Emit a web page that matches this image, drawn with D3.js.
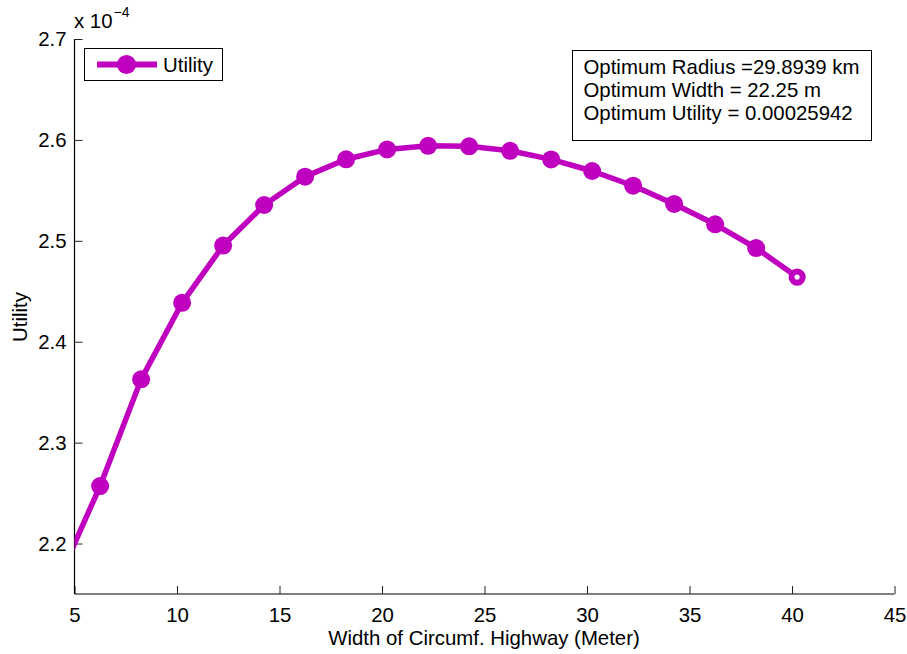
<!DOCTYPE html>
<html>
<head>
<meta charset="utf-8">
<script src="https://cdn.jsdelivr.net/npm/d3@7"></script>
<style>
  html, body { margin: 0; padding: 0; background: #fff; }
  svg { display: block; font-family: "Liberation Sans", Arial, Helvetica, sans-serif; }
</style>
</head>
<body>
<svg id="chart" width="907" height="654"></svg>
<script>
// Data (utility in units of 1e-4)
const widths = [4.25, 6.25, 8.25, 10.25, 12.25, 14.25, 16.25, 18.25, 20.25, 22.25, 24.25, 26.25, 28.25, 30.25, 32.25, 34.25, 36.25, 38.25, 40.25];
const utility = [2.1658, 2.2570, 2.3627, 2.4386, 2.4953, 2.5355, 2.5636, 2.5808, 2.5906, 2.5942, 2.5937, 2.5892, 2.5807, 2.5692, 2.5546, 2.5365, 2.5164, 2.4928, 2.4641];
const xTicks = [5, 10, 15, 20, 25, 30, 35, 40, 45];
const yTicks = [2.2, 2.3, 2.4, 2.5, 2.6, 2.7];
const seriesName = "Utility";
const infoLines = ["Optimum Radius =29.8939 km", "Optimum Width = 22.25 m", "Optimum Utility = 0.00025942"];
const xLabel = "Width of Circumf. Highway (Meter)";
const yLabel = "Utility";

const color = "#bf00bf";
const L = 74.5, R = 894.5, T = 39, B = 594;
const svg = d3.select("#chart");

const x = d3.scaleLinear().domain([5, 45]).range([L, R]);
const y = d3.scaleLinear().domain([2.15, 2.7]).range([B, T]);

const data = widths.map((w, i) => ({ w, u: utility[i] }));

svg.append("defs").append("clipPath").attr("id", "clip")
  .append("rect").attr("x", L).attr("y", T - 12).attr("width", R - L).attr("height", B - T + 12);

// axes
const fs = 20.4;
const xAxis = d3.axisBottom(x).tickValues(xTicks).tickSize(-8).tickPadding(14).tickFormat(d3.format("d"));
const gx = svg.append("g").attr("transform", `translate(0,${B})`).call(xAxis);
gx.select(".domain").attr("d", `M${L},0H${R}`).attr("stroke", "#000").attr("stroke-width", 1.2);
gx.selectAll(".tick line").attr("stroke", "#222").attr("stroke-width", 1);
gx.selectAll(".tick text").attr("font-size", fs).attr("fill", "#000").attr("font-family", "Liberation Sans, Arial, sans-serif");

const yAxis = d3.axisLeft(y).tickValues(yTicks).tickSize(-8).tickPadding(8).tickFormat(d3.format(".1f"));
const gy = svg.append("g").attr("transform", `translate(${L},0)`).call(yAxis);
gy.select(".domain").attr("d", `M0,${T}V${B}`).attr("stroke", "#000").attr("stroke-width", 1.2);
gy.selectAll(".tick line").attr("stroke", "#222").attr("stroke-width", 1);
gy.selectAll(".tick text").attr("font-size", fs).attr("fill", "#000").attr("font-family", "Liberation Sans, Arial, sans-serif");

// exponent label
const expT = svg.append("text").attr("x", 74).attr("y", 28).attr("font-size", fs).attr("fill", "#000");
expT.append("tspan").text("x 10");
expT.append("tspan").attr("font-size", 14).attr("dy", -11).attr("dx", 1).text("\u22124");

// axis labels
svg.append("text").attr("x", 484).attr("y", 645).attr("text-anchor", "middle")
  .attr("font-size", fs).attr("fill", "#000").text(xLabel);
svg.append("text").attr("transform", "translate(27,317) rotate(-90)").attr("text-anchor", "middle")
  .attr("font-size", fs).attr("fill", "#000").text(yLabel);

// line + markers
const plot = svg.append("g").attr("clip-path", "url(#clip)");
const line = d3.line().x(d => x(d.w)).y(d => y(d.u));
plot.append("path").datum(data).attr("d", line)
  .attr("fill", "none").attr("stroke", color).attr("stroke-width", 5.5).attr("stroke-linejoin", "round");
const last = data.length - 1;
plot.selectAll("circle.m").data(data).join("circle").attr("class", "m")
  .attr("cx", d => x(d.w)).attr("cy", d => y(d.u))
  .attr("r", (d, i) => i === last ? 5.6 : 9)
  .attr("fill", (d, i) => i === last ? "#fff" : color)
  .attr("stroke", color)
  .attr("stroke-width", (d, i) => i === last ? 6 : 0);

// legend
const lg = svg.append("g");
lg.append("rect").attr("x", 84.5).attr("y", 48.5).attr("width", 138).attr("height", 32)
  .attr("fill", "#fff").attr("stroke", "#000").attr("stroke-width", 1);
lg.append("line").attr("x1", 97).attr("x2", 157).attr("y1", 64.5).attr("y2", 64.5)
  .attr("stroke", color).attr("stroke-width", 6);
lg.append("circle").attr("cx", 126.5).attr("cy", 64.5).attr("r", 9.6).attr("fill", color);
lg.append("text").attr("x", 163).attr("y", 71.5).attr("font-size", fs).attr("fill", "#000").text(seriesName);

// info box
const ib = svg.append("g");
ib.append("rect").attr("x", 572.5).attr("y", 50.5).attr("width", 299).attr("height", 90)
  .attr("fill", "#fff").attr("stroke", "#000").attr("stroke-width", 1);
ib.selectAll("text").data(infoLines).join("text")
  .attr("x", 583.5).attr("y", (d, i) => 73.5 + i * 23.3)
  .attr("font-size", fs).attr("fill", "#000").text(d => d);
</script>
</body>
</html>
